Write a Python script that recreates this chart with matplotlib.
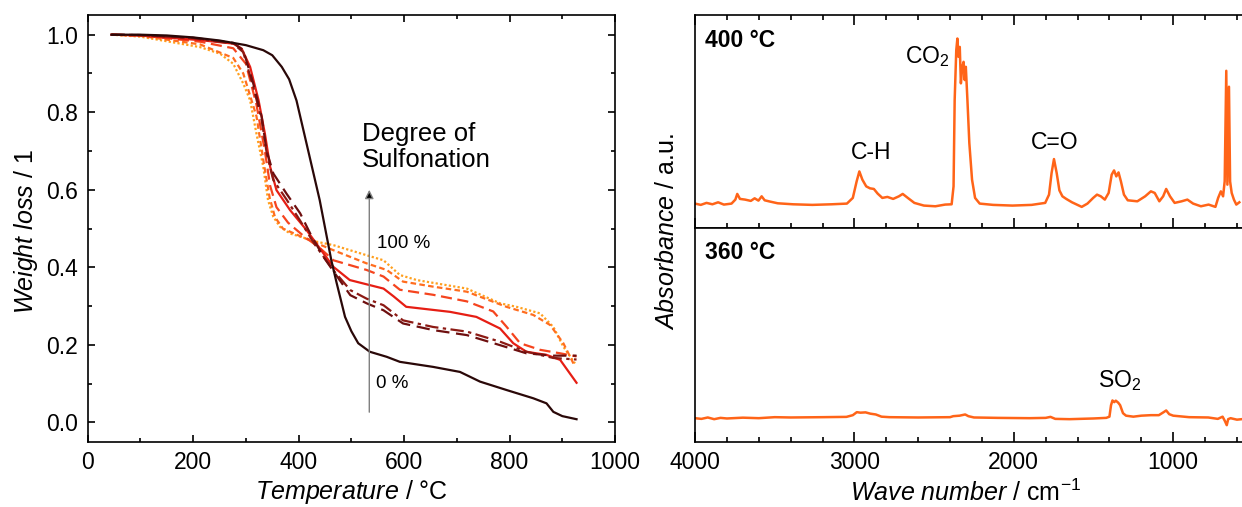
import matplotlib
matplotlib.use('Agg')
import matplotlib.pyplot as plt
from matplotlib.ticker import MultipleLocator, NullLocator

plt.rcParams['font.family'] = ['Liberation Sans', 'DejaVu Sans']
plt.rcParams['mathtext.fontset'] = 'custom'
plt.rcParams['mathtext.rm'] = 'Liberation Sans'
plt.rcParams['mathtext.it'] = 'Liberation Sans:italic'
plt.rcParams['mathtext.bf'] = 'Liberation Sans:bold'

# --- TGA curves (temperature in degC, relative weight) ---
# 0 % (solid, darkest)
t_s0 = [45, 100, 150, 200, 250, 300, 333, 350, 368, 382, 396, 420, 440, 462, 472, 488, 500, 513,
        535, 567, 592, 655, 706, 744, 795, 845, 870, 883, 900, 927]
w_s0 = [1.0, 1.0, 0.998, 0.993, 0.985, 0.973, 0.96, 0.947, 0.917, 0.885, 0.83, 0.69, 0.573, 0.418,
        0.36, 0.272, 0.235, 0.204, 0.182, 0.169, 0.156, 0.143, 0.13, 0.105, 0.083, 0.062, 0.049,
        0.027, 0.016, 0.008]
# dark dashed
t_s1 = [45, 100, 200, 276, 295, 314, 330, 339, 352, 377, 403, 422, 447, 472, 498, 529, 561, 598,
        655, 719, 782, 832, 883, 927]
w_s1 = [1.0, 0.999, 0.992, 0.979, 0.96, 0.874, 0.788, 0.702, 0.642, 0.59, 0.539, 0.487, 0.427,
        0.378, 0.328, 0.307, 0.289, 0.255, 0.238, 0.225, 0.199, 0.178, 0.172, 0.172]
# dark dash-dot
t_s2 = [45, 100, 200, 276, 295, 314, 330, 340, 352, 377, 403, 430, 466, 498, 529, 561, 598, 655,
        719, 782, 832, 883, 927]
w_s2 = [1.0, 0.999, 0.991, 0.977, 0.955, 0.865, 0.78, 0.69, 0.625, 0.575, 0.52, 0.46, 0.392, 0.341,
        0.319, 0.302, 0.263, 0.246, 0.234, 0.208, 0.182, 0.166, 0.162]
# red solid
t_s3 = [45, 100, 213, 276, 292, 308, 324, 336, 346, 358, 384, 415, 447, 466, 497, 529, 561, 580,
        604, 687, 737, 782, 807, 832, 870, 896, 927]
w_s3 = [1.0, 0.998, 0.986, 0.977, 0.964, 0.917, 0.831, 0.745, 0.659, 0.599, 0.547, 0.496, 0.436,
        0.401, 0.367, 0.356, 0.345, 0.325, 0.298, 0.285, 0.272, 0.242, 0.204, 0.182, 0.174, 0.161,
        0.102]
# red-orange long dashes
t_s4 = [45, 100, 213, 276, 300, 320, 336, 346, 358, 380, 410, 440, 466, 529, 561, 592, 655, 719,
        769, 794, 820, 858, 896, 927]
w_s4 = [1.0, 0.998, 0.982, 0.965, 0.925, 0.82, 0.70, 0.61, 0.555, 0.515, 0.48, 0.45, 0.418, 0.393,
        0.376, 0.342, 0.329, 0.312, 0.286, 0.247, 0.204, 0.187, 0.178, 0.17]
# orange short dashes
t_s5 = [45, 100, 213, 276, 295, 320, 335, 345, 355, 370, 400, 434, 466, 529, 567, 598, 655, 719,
        794, 845, 877, 902, 924]
w_s5 = [1.0, 0.997, 0.975, 0.94, 0.9, 0.79, 0.66, 0.58, 0.53, 0.5, 0.482, 0.462, 0.444, 0.41,
        0.393, 0.363, 0.35, 0.337, 0.298, 0.277, 0.251, 0.204, 0.144]
# 100 % (dotted, lightest)
t_s6 = [45, 100, 213, 251, 276, 295, 308, 320, 333, 342, 352, 365, 384, 434, 466, 529, 561, 592,
        624, 719, 782, 813, 858, 883, 902, 924]
w_s6 = [1.0, 0.995, 0.968, 0.951, 0.925, 0.874, 0.831, 0.745, 0.659, 0.573, 0.53, 0.504, 0.487,
        0.466, 0.457, 0.431, 0.418, 0.38, 0.367, 0.345, 0.307, 0.298, 0.281, 0.246, 0.195, 0.152]

# --- FTIR spectra (wave number in cm-1, absorbance a.u.) ---
wn_400 = [4000, 3964, 3928, 3891, 3855, 3819, 3771, 3747, 3735, 3718, 3686, 3650, 3626, 3602,
          3582, 3563, 3529, 3481, 3385, 3264, 3143, 3047, 3010, 2986, 2969, 2950, 2926, 2902,
          2878, 2854, 2825, 2793, 2757, 2721, 2697, 2665, 2624, 2564, 2492, 2431, 2390, 2378,
          2371, 2361, 2354, 2347, 2339, 2332, 2323, 2315, 2308, 2301, 2291, 2279, 2262, 2243,
          2214, 2130, 2009, 1888, 1803, 1779, 1763, 1748, 1731, 1714, 1695, 1671, 1635, 1574,
          1538, 1502, 1478, 1454, 1429, 1405, 1386, 1371, 1357, 1343, 1328, 1309, 1285, 1225,
          1176, 1140, 1116, 1087, 1063, 1044, 1020, 991, 947, 911, 875, 826, 778, 735, 718, 701,
          687, 677, 667, 660, 650, 643, 633, 619, 604, 585]
ab_400 = [0.01, -0.003, 0.017, 0.003, 0.023, 0.0, 0.01, 0.05, 0.107, 0.057, 0.05, 0.037, 0.063,
          0.04, 0.083, 0.043, 0.03, 0.013, 0.003, -0.003, 0.003, 0.01, 0.067, 0.233, 0.333, 0.25,
          0.183, 0.163, 0.157, 0.11, 0.067, 0.077, 0.057, 0.083, 0.107, 0.067, 0.017, -0.01,
          -0.017, 0.0, 0.003, 0.183, 1.05, 1.55, 1.667, 1.483, 1.583, 1.217, 1.383, 1.433, 1.25,
          1.383, 1.05, 0.617, 0.25, 0.067, 0.01, -0.003, -0.01, -0.003, 0.017, 0.1, 0.317, 0.457,
          0.317, 0.143, 0.083, 0.057, 0.023, -0.023, 0.01, 0.067, 0.1, 0.083, 0.05, 0.117, 0.3,
          0.343, 0.283, 0.323, 0.233, 0.1, 0.043, 0.033, 0.083, 0.133, 0.117, 0.033, 0.083, 0.157,
          0.083, 0.017, 0.033, 0.05, 0.01, -0.017, 0.0, -0.023, 0.067, 0.133, 0.083, 0.233, 1.343,
          0.2, 1.183, 0.233, 0.117, 0.05, 0.0, 0.023]

wn_360 = [4000, 3960, 3920, 3880, 3840, 3800, 3700, 3600, 3500, 3400, 3200, 3050, 3010, 2985,
          2962, 2930, 2900, 2866, 2830, 2780, 2600, 2400, 2380, 2340, 2305, 2285, 2250, 2100,
          1900, 1800, 1770, 1740, 1650, 1500, 1420, 1400, 1390, 1381, 1370, 1360, 1345, 1333,
          1315, 1296, 1250, 1200, 1140, 1090, 1060, 1044, 1025, 1000, 900, 780, 720, 690, 675,
          664, 655, 640, 600, 570]
ab_360 = [0.0, -0.007, 0.007, -0.01, 0.003, -0.003, 0.005, 0.0, 0.01, 0.007, 0.01, 0.013, 0.03,
          0.06, 0.055, 0.058, 0.045, 0.037, 0.015, 0.01, 0.007, 0.01, 0.02, 0.025, 0.037, 0.02,
          0.007, 0.003, 0.0, 0.003, 0.013, -0.007, -0.01, -0.003, 0.003, 0.015, 0.13, 0.177, 0.16,
          0.175, 0.155, 0.13, 0.05, 0.025, 0.015, 0.025, 0.03, 0.03, 0.06, 0.077, 0.04, 0.025,
          0.01, 0.007, -0.007, 0.015, -0.03, -0.07, -0.01, 0.0, -0.015, -0.01]

fig = plt.figure(figsize=(12.42, 5.07), dpi=100)

# left: TGA
ax1 = fig.add_axes([0.0706, 0.1288, 0.4246, 0.8410])
curves = [
    (t_s6, w_s6, '#ffa01e', (0, (1, 1))),
    (t_s5, w_s5, '#ff6d1f', (0, (2.5, 1.5))),
    (t_s4, w_s4, '#f5441e', (0, (5, 2.5))),
    (t_s3, w_s3, '#e61e14', '-'),
    (t_s2, w_s2, '#8c1a14', (0, (6, 2, 1.5, 2))),
    (t_s1, w_s1, '#6e0f0f', (0, (6, 3))),
    (t_s0, w_s0, '#2a0808', '-'),
]
for t, w, c, ls in curves:
    ax1.plot(t, w, color=c, linestyle=ls, lw=1.6)

ax1.set_xlim(0, 1000)
ax1.set_ylim(-0.05, 1.05)
ax1.xaxis.set_major_locator(MultipleLocator(200))
ax1.xaxis.set_minor_locator(MultipleLocator(100))
ax1.yaxis.set_major_locator(MultipleLocator(0.2))
ax1.yaxis.set_minor_locator(MultipleLocator(0.1))
ax1.yaxis.set_major_formatter(plt.FormatStrFormatter('%.1f'))
ax1.tick_params(which='both', direction='in', top=True, right=True, width=1.2, labelsize=16.5)
ax1.tick_params(which='major', length=5.3, pad=7)
ax1.tick_params(which='minor', length=3)
for s in ax1.spines.values():
    s.set_linewidth(1.2)

ax1.annotate('', xy=(534, 0.607), xytext=(534, 0.019),
             arrowprops=dict(arrowstyle='-|>', ec='gray', fc='black', lw=1, mutation_scale=13))
ax1.text(520, 0.711, 'Degree of\nSulfonation', fontsize=18.5, ha='left', va='center',
         linespacing=1.1)
ax1.text(548, 0.462, '100 %', fontsize=13.5, ha='left', va='center')
ax1.text(547, 0.10, '0 %', fontsize=13.5, ha='left', va='center')

# right: FTIR, two stacked panels
ax2 = fig.add_axes([0.5596, 0.5503, 0.4620, 0.4195])
ax3 = fig.add_axes([0.5596, 0.1288, 0.4620, 0.4215])
ax2.plot(wn_400, ab_400, color='#ff6418', lw=1.8)
ax3.plot(wn_360, ab_360, color='#ff6418', lw=1.8)
for ax in (ax2, ax3):
    ax.set_xlim(4000, 400)
    ax.set_ylim(-0.235, 1.9)
    ax.xaxis.set_major_locator(MultipleLocator(1000))
    ax.xaxis.set_minor_locator(MultipleLocator(200))
    ax.yaxis.set_major_locator(NullLocator())
    ax.tick_params(which='major', length=7, width=1.2, labelsize=16.5, pad=7)
    ax.tick_params(which='minor', length=3.6, width=1.2)
    for s in ax.spines.values():
        s.set_linewidth(1.2)
ax2.tick_params(which='both', direction='in', top=True, bottom=True, labelbottom=False)
ax3.tick_params(which='both', direction='in', top=False, bottom=True)

ax2.text(3937, 1.65, '400 °C', fontsize=16.5, fontweight='bold', ha='left', va='center')
ax2.text(2680, 1.417, 'CO$_2$', fontsize=16.5, ha='left', va='baseline')
ax2.text(3023, 0.457, 'C-H', fontsize=16.5, ha='left', va='baseline')
ax2.text(1896, 0.56, 'C=O', fontsize=16.5, ha='left', va='baseline')
ax3.text(3937, 1.66, '360 °C', fontsize=16.5, fontweight='bold', ha='left', va='center')
ax3.text(1474, 0.31, 'SO$_2$', fontsize=16.5, ha='left', va='baseline')

# axis labels
fig.text(0.2826, 0.001, r'$\mathit{Temperature}$ / °C', fontsize=18, ha='center', va='bottom')
fig.text(0.021, 0.5424, r'$\mathit{Weight\ loss}$ / 1', fontsize=18, ha='center', va='center',
         rotation=90)
fig.text(0.7778, 0.001, r'$\mathit{Wave\ number}$ / cm$^{-1}$', fontsize=18, ha='center',
         va='bottom')
fig.text(0.537, 0.5424, r'$\mathit{Absorbance}$ / a.u.', fontsize=18, ha='center', va='center',
         rotation=90)

fig.savefig('out.png', dpi=100)
